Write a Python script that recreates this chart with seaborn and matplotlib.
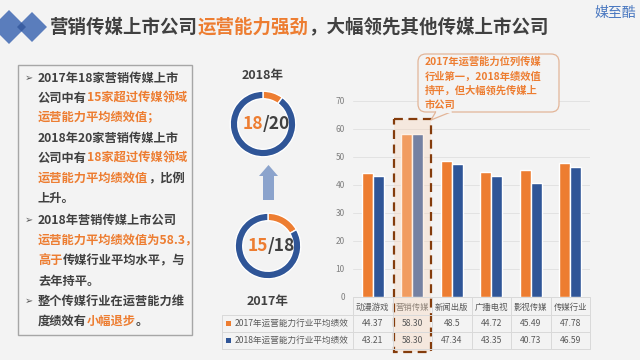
import numpy as np
import pandas as pd
import matplotlib
matplotlib.use('Agg')
import matplotlib.pyplot as plt
import seaborn as sns
from matplotlib import transforms
from matplotlib.patches import Rectangle, Polygon, FancyBboxPatch

# -----------------------------
# Data
# -----------------------------
categories = ['动漫游戏', '营销传媒', '新闻出版', '广播电视', '影视传媒', '传媒行业']
perf_2017 = [44.37, 58.30, 48.5, 44.72, 45.49, 47.78]
perf_2018 = [43.21, 58.30, 47.34, 43.35, 40.73, 46.59]
labels_2017 = ['44.37', '58.30', '48.5', '44.72', '45.49', '47.78']
labels_2018 = ['43.21', '58.30', '47.34', '43.35', '40.73', '46.59']
row_names = ['2017年运营能力行业平均绩效', '2018年运营能力行业平均绩效']

donut_years = ['2018年', '2017年']
donut_exceed = [18, 15]
donut_total = [20, 18]

# -----------------------------
# Style
# -----------------------------
W, H = 640, 360
BG = '#F3F3F3'
ORANGE = '#ED7D31'
BLUE = '#2F5597'
DARK = '#404040'
GRAY = '#595959'
LINE = '#D9D9D9'
FAM = ['Noto Sans CJK SC', 'DejaVu Sans']

sns.set_theme(style='white')
plt.rcParams['font.family'] = FAM

fig = plt.figure(figsize=(6.4, 3.6), dpi=100, facecolor=BG)


def px_axes(x0, y0, x1, y1, **kw):
    return fig.add_axes([x0 / W, 1 - y1 / H, (x1 - x0) / W, (y1 - y0) / H], **kw)


# -----------------------------
# Bar chart
# -----------------------------
ax = px_axes(353, 101, 590, 297)
df = pd.DataFrame({
    'cat': categories * 2,
    'val': perf_2017 + perf_2018,
    'year': ['2017'] * len(categories) + ['2018'] * len(categories),
})
sns.barplot(data=df, x='cat', y='val', hue='year', palette=[ORANGE, BLUE],
            width=0.56, saturation=1, legend=False, ax=ax)
ax.set_ylim(0, 70)
ax.set_xlim(-0.5, len(categories) - 0.5)
ax.set_facecolor('none')
ax.set_xlabel('')
ax.set_ylabel('')
ax.yaxis.grid(True, color='#E2E2E2', lw=0.7)
ax.set_axisbelow(True)
for s in ax.spines.values():
    s.set_visible(False)
ax.tick_params(axis='y', length=0, labelsize=6, labelcolor='#7F7F7F', pad=6)
ax.tick_params(axis='x', length=0, labelsize=6, labelcolor=GRAY, pad=4)
ax.set_yticks(range(0, 71, 10))

# -----------------------------
# Overlay in pixel coordinates
# -----------------------------
ov = fig.add_axes([0, 0, 1, 1], zorder=10)
ov.set_xlim(0, W)
ov.set_ylim(H, 0)
ov.axis('off')
ov.patch.set_alpha(0)
bt = transforms.blended_transform_factory(ax.transData, ov.transData)
renderer = fig.canvas.get_renderer()


def seg_text(x, y, parts, size, weight='bold'):
    for s, c in parts:
        t = ov.text(x, y, s, color=c, fontsize=size, weight=weight,
                    va='center', ha='left', family=FAM)
        x += t.get_window_extent(renderer=renderer).width


# title + logo
ov.add_patch(Polygon([(-8, 27), (9, 10), (26, 27), (9, 44)], closed=True,
                     fc='#5A7DBC', ec='none'))
ov.add_patch(Polygon([(17, 27), (32, 12), (47, 27), (32, 42)], closed=True,
                     fc='#5A7DBC', ec='none'))
ov.add_patch(Polygon([(17, 27), (21.5, 22.5), (26, 27), (21.5, 31.5)],
                     closed=True, fc='#3A5EA2', ec='none'))
seg_text(50, 27, [('营销传媒上市公司', DARK), ('运营能力强劲', ORANGE),
                  ('，大幅领先其他传媒上市公司', DARK)], 13.3)
ov.text(636, 13, '媒至酷', color='#4A78C0', fontsize=10, ha='right', va='center')

# left text box
ov.add_patch(Rectangle((18, 65), 174, 270, fc='none', ec='#A6A6A6', lw=1))
lines = [
    (78, True, [('2017年18家营销传媒上市', DARK)]),
    (98, False, [('公司中有', DARK), ('15家超过传媒领域', ORANGE)]),
    (118, False, [('运营能力平均绩效值；', ORANGE)]),
    (138, False, [('2018年20家营销传媒上市', DARK)]),
    (158, False, [('公司中有', DARK), ('18家超过传媒领域', ORANGE)]),
    (178, False, [('运营能力平均绩效值', ORANGE), ('，比例', DARK)]),
    (198, False, [('上升。', DARK)]),
    (220, True, [('2018年营销传媒上市公司', DARK)]),
    (241, False, [('运营能力平均绩效值为58.3，', ORANGE)]),
    (261, False, [('高于', ORANGE), ('传媒行业平均水平，与', DARK)]),
    (281, False, [('去年持平。', DARK)]),
    (301, True, [('整个传媒行业在运营能力维', DARK)]),
    (321, False, [('度绩效有', DARK), ('小幅退步', ORANGE), ('。', DARK)]),
]
for y, bullet, parts in lines:
    if bullet:
        ov.text(25, y, '➢', color=GRAY, fontsize=7, va='center', ha='left',
                family=['DejaVu Sans'])
    seg_text(38, y, parts, 8.8)

# donuts
donut_pos = [(263, 124), (268, 246)]
label_y = [75, 302]
for (cx, cy), yr, ly, n, tot in zip(donut_pos, donut_years, label_y,
                                     donut_exceed, donut_total):
    dax = px_axes(cx - 41, cy - 41, cx + 41, cy + 41)
    dax.pie([tot - n, n], colors=[ORANGE, BLUE], startangle=90,
            counterclock=False,
            wedgeprops=dict(width=0.23, edgecolor='white', linewidth=1))
    dax.set_aspect('equal')
    ov.text(cx, ly, yr, color=DARK, fontsize=9, weight='bold',
            ha='center', va='center')
    ov.text(cx, cy, str(n), color=ORANGE, fontsize=12.5, weight='bold',
            ha='right', va='center')
    ov.text(cx, cy, '/' + str(tot), color=DARK, fontsize=12.5, weight='bold',
            ha='left', va='center')

# arrow between donuts
ov.add_patch(Polygon([(263, 200), (263, 176), (259, 176), (268.5, 165),
                      (278, 176), (274, 176), (274, 200)], closed=True,
                     fc='#8BA3CC', ec='none'))

# table under the bars
ov.plot([353, 590], [297, 297], color=LINE, lw=0.7)
for yy in [315, 332, 349]:
    ov.plot([222, 590], [yy, yy], color=LINE, lw=0.7)
ov.plot([222, 222], [315, 349], color=LINE, lw=0.7)
for i in range(len(categories) + 1):
    ov.plot([i - 0.5, i - 0.5], [297, 349], color=LINE, lw=0.7, transform=bt)
for row_y, name, col, labs in zip([323.5, 340.5], row_names, [ORANGE, BLUE],
                                  [labels_2017, labels_2018]):
    ov.add_patch(Rectangle((226, row_y - 3), 5, 5, fc=col, ec='none'))
    ov.text(235, row_y, name, color=GRAY, fontsize=6.2, va='center')
    for i, lab in enumerate(labs):
        ov.text(i, row_y, lab, color=GRAY, fontsize=6.2, ha='center',
                va='center', transform=bt)

# highlight on 营销传媒
hl = categories.index('营销传媒')
ov.add_patch(Rectangle((hl - 0.47, 119), 0.94, 233, transform=bt,
                       fc=(0.98, 0.84, 0.72, 0.35), ec='#843C0C', lw=1.6,
                       ls=(0, (4, 2.5))))

# callout
ov.add_patch(FancyBboxPatch((418, 54), 141, 58,
                            boxstyle='round,pad=0,rounding_size=8',
                            fc=BG, ec='#E3B598', lw=0.9, zorder=3))
ov.add_patch(Polygon([(436, 111.5), (431, 120), (452, 111.5)], closed=False,
                     fc=BG, ec='#E3B598', lw=0.9, zorder=4))
ov.plot([436.6, 451.4], [111.9, 111.9], color=BG, lw=1.5, zorder=5)
callout = ['2017年运营能力位列传媒', '行业第一，2018年绩效值',
           '持平，但大幅领先传媒上', '市公司']
for k, s in enumerate(callout):
    ov.text(425, 62 + k * 14.3, s, color=ORANGE, fontsize=7.4, weight='bold',
            va='center', ha='left', zorder=6)

fig.savefig('out.png', dpi=100, facecolor=BG)
